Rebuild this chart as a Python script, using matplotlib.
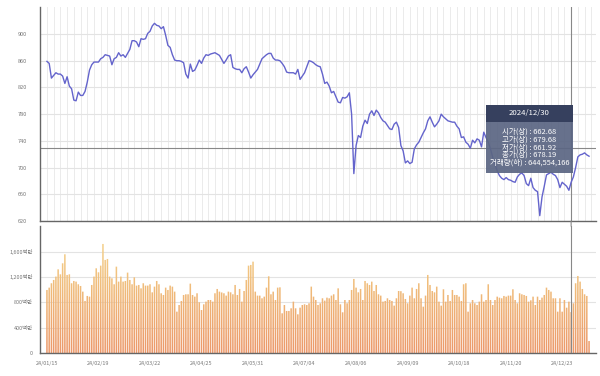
import numpy as np
import matplotlib
matplotlib.use("Agg")
import matplotlib.pyplot as plt
from matplotlib.path import Path
from matplotlib.patches import Rectangle, ConnectionPatch
from matplotlib.colors import LinearSegmentedColormap
from matplotlib.ticker import FuncFormatter

plt.rcParams['font.family'] = ['Noto Sans CJK KR', 'DejaVu Sans']

# 날짜 라벨 (23 거래일 간격)
tick_labels = ['24/01/15', '24/02/19', '24/03/22', '24/04/25', '24/05/31', '24/07/04',
               '24/08/06', '24/09/09', '24/10/18', '24/11/20', '24/12/23']

# 종가 (지수)
close = [
    859, 856, 834, 838, 842, 840, 840, 837, 826, 836,
    822, 818, 801, 800, 813, 808, 808, 814, 828, 846,
    854, 858, 858, 858, 863, 865, 869, 868, 867, 854,
    863, 865, 872, 867, 869, 865, 871, 877, 890, 890,
    888, 881, 893, 892, 893, 901, 904, 912, 916, 913,
    912, 908, 911, 898, 883, 880, 869, 861, 860, 860,
    859, 857, 840, 834, 855, 844, 846, 853, 861, 856,
    864, 869, 868, 870, 871, 872, 870, 868, 862, 856,
    861, 867, 869, 850, 848, 847, 847, 842, 848, 851,
    843, 834, 839, 843, 847, 855, 863, 866, 869, 871,
    871, 864, 861, 861, 860, 856, 851, 843, 842, 842,
    842, 840, 847, 832, 837, 842, 851, 860, 859, 857,
    854, 852, 851, 840, 826, 828, 822, 812, 814, 806,
    798, 797, 805, 804, 806, 812, 780, 691, 733, 748,
    745, 762, 771, 766, 780, 785, 778, 786, 782, 775,
    770, 768, 763, 758, 757, 765, 768, 760, 733, 725,
    707, 710, 706, 708, 728, 734, 738, 745, 752, 758,
    770, 776, 768, 761, 765, 770, 780, 776, 773, 770,
    769, 768, 768, 762, 758, 745, 746, 738, 735, 729,
    741, 737, 743, 741, 731, 753, 745, 738, 728, 715,
    705, 695, 688, 684, 682, 685, 682, 681, 679, 678,
    686, 690, 692, 688, 676, 673, 684, 670, 666, 664,
    628, 656, 672, 689, 691, 693, 690, 688, 682, 670,
    678, 675, 672, 666, 678, 686, 700, 716, 719, 720,
    722, 719, 717,
]

# 거래량 (백만)
volume = [
    994, 1031, 1100, 1152, 1205, 1320, 1241, 1415, 1557, 1231,
    1241, 1100, 1136, 1126, 1084, 1057, 968, 821, 900, 889,
    1073, 1205, 1336, 1273, 1378, 1720, 1468, 1483, 1205, 1178,
    1084, 1362, 1126, 1205, 1126, 1136, 1268, 1152, 1084, 1194,
    1063, 1073, 1020, 1100, 1063, 1063, 1084, 957, 1047, 1136,
    1084, 942, 915, 1031, 994, 1063, 1047, 968, 652, 757,
    821, 915, 926, 926, 1094, 915, 889, 942, 800, 678,
    768, 810, 836, 836, 810, 942, 1010, 968, 955, 942,
    905, 968, 957, 926, 1073, 915, 1010, 810, 978, 1152,
    1378, 1389, 1441, 968, 905, 905, 863, 889, 1031, 1210,
    926, 968, 836, 1031, 1036, 626, 757, 663, 663, 705,
    810, 705, 610, 715, 757, 768, 757, 784, 1047, 889,
    836, 757, 784, 863, 826, 873, 863, 905, 926, 836,
    1020, 768, 642, 836, 784, 836, 994, 1168, 1031, 957,
    1010, 836, 1136, 1100, 1073, 1126, 978, 1073, 926, 905,
    810, 821, 863, 836, 821, 747, 863, 978, 975, 942,
    852, 784, 905, 1031, 863, 1010, 1100, 863, 731, 905,
    1231, 1073, 978, 957, 1047, 810, 747, 1005, 810, 915,
    821, 994, 915, 915, 889, 821, 1084, 1100, 652, 784,
    836, 784, 757, 810, 926, 810, 836, 1084, 836, 757,
    836, 889, 873, 863, 900, 889, 905, 905, 1005, 836,
    784, 942, 926, 915, 900, 810, 831, 889, 757, 889,
    836, 873, 915, 1031, 994, 968, 863, 863, 652, 863,
    652, 836, 715, 810, 645, 784, 1100, 1215, 1126, 1010,
    926, 900, 189,
]

# 툴팁 내용
tip_index = 234
tip_price = 729
tip_title = '2024/12/30'
tip_rows = ['시가(상) : 662.68', '고가(상) : 679.68', '저가(상) : 661.92',
            '종가(상) : 678.19', '거래량(하) : 644,554,166']

W, H = 600, 376
idx = np.arange(len(close))
xmin, xmax = -3.1, 245.1
grid_c = '#e3e3e3'
spine_c = '#666666'
label_c = '#777777'

fig = plt.figure(figsize=(W / 100, H / 100), dpi=100)
ax1 = fig.add_axes([40 / W, 1 - 221 / H, 556 / W, (221 - 7.3) / H])
ax2 = fig.add_axes([40 / W, 1 - 353 / H, 556 / W, (353 - 226.2) / H])

# 위쪽: 지수 라인
ax1.plot(idx, close, color='#6464cc', lw=1.0, zorder=3)
ax1.set_xlim(xmin, xmax)
ax1.set_ylim(620, 940)
ax1.set_yticks(np.arange(620, 901, 40))
ax1.set_xticks(np.arange(0, xmax, 3))
ax1.set_xticklabels([])
ax1.tick_params(axis='both', length=0, labelsize=4, labelcolor=label_c)
ax1.tick_params(axis='y', pad=9.4)
ax1.grid(True, axis='y', color=grid_c, lw=0.8)
ax1.grid(True, axis='x', color='#ebebeb', lw=0.7)
ax1.axhline(tip_price, color='#888888', lw=0.8, zorder=2)
ax1.axvline(tip_index, color='#888888', lw=0.8, zorder=2)

# 아래쪽: 거래량 막대 (그라데이션)
bars = ax2.bar(idx, volume, width=0.68, color='none', edgecolor='none')
paths = [b.get_path().transformed(b.get_patch_transform()) for b in bars]
clip = Path.make_compound_path(*paths)
cmap = LinearSegmentedColormap.from_list('vol', ['#ec986a', '#f0bb7a', '#f5d992'])
grad = np.linspace(0, 1, 256).reshape(-1, 1)
im = ax2.imshow(grad, extent=(xmin, xmax, 0, 2000), origin='lower',
                aspect='auto', cmap=cmap, zorder=2)
im.set_clip_path(clip, ax2.transData)
ax2.set_xlim(xmin, xmax)
ax2.set_ylim(0, 2000)
ax2.set_yticks([0, 400, 800, 1200, 1600])
ax2.yaxis.set_major_formatter(FuncFormatter(lambda v, p: f'{v:,.0f}백만' if v else '0'))
ax2.set_xticks(np.arange(len(tick_labels)) * 23)
ax2.set_xticklabels(tick_labels)
ax2.tick_params(axis='both', length=0, labelsize=3.9, labelcolor=label_c)
ax2.tick_params(axis='y', pad=5)
ax2.tick_params(axis='x', pad=6)
ax2.grid(True, axis='y', color=grid_c, lw=0.8)
ax2.axvline(tip_index, color='#888888', lw=0.8, zorder=3)

for ax in (ax1, ax2):
    ax.set_axisbelow(True)
    for s in ('top', 'right'):
        ax.spines[s].set_visible(False)
    for s in ('left', 'bottom'):
        ax.spines[s].set_color(spine_c)
        ax.spines[s].set_linewidth(1.0)

con = ConnectionPatch(xyA=(tip_index, 620), coordsA=ax1.transData,
                      xyB=(tip_index, 2000), coordsB=ax2.transData,
                      color='#888888', lw=0.8)
fig.add_artist(con)


# 툴팁 박스
def fx(x):
    return x / W


def fy(y):
    return 1 - y / H


x0, x1, y0, y1, yh = 486, 573, 105, 173, 122
fig.add_artist(Rectangle((fx(x0), fy(y1)), fx(x1) - fx(x0), fy(yh) - fy(y1),
                         transform=fig.transFigure, facecolor='#5b6683',
                         alpha=0.93, edgecolor='none', zorder=10))
fig.add_artist(Rectangle((fx(x0), fy(yh)), fx(x1) - fx(x0), fy(y0) - fy(yh),
                         transform=fig.transFigure, facecolor='#36405e',
                         edgecolor='none', zorder=10))
cx = fx((x0 + x1) / 2)
fig.text(cx, fy(113.5), tip_title, color='white', fontsize=5.6,
         ha='center', va='center', zorder=11)
for k, row in enumerate(tip_rows):
    fig.text(cx, fy(131.5 + 7.8 * k), row, color='white', fontsize=5.4,
             ha='center', va='center', zorder=11)

fig.savefig('out.png', dpi=100)
